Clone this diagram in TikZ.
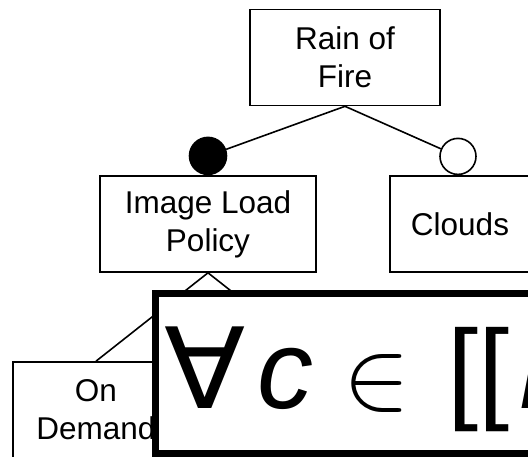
\RequirePackage{fix-cm}
\documentclass[tikz,border=0pt]{standalone}
\usepackage{fontspec}
\setmainfont{Liberation Sans}
\newfontfamily\symfont{DejaVu Sans}
\usetikzlibrary{positioning}
\begin{document}
\begin{tikzpicture}[x=1pt,y=-1pt,
    feature/.style={draw, line width=1.6pt, minimum height=96pt, inner sep=0pt,
        align=center, font=\fontsize{31.5}{38}\selectfont},
    mandatory/.style={circle, draw, fill=black, line width=1.6pt, minimum size=37pt, inner sep=0pt},
    optional/.style={circle, draw, fill=white, line width=1.6pt, minimum size=36pt, inner sep=0pt},
    formula/.style={draw, fill=white, line width=7pt, minimum width=420pt,
        minimum height=159pt, inner sep=0pt, anchor=north west},
    link/.style={line width=1.6pt}]
    \useasboundingbox (0,0) rectangle (528,457);
    \clip (0,0) rectangle (528,457);
    \node[feature, minimum width=190pt] (rain) at (345,57.5) {Rain of\\Fire};
    \node[feature, minimum width=216pt] (ilp) at (208,224) {Image Load\\Policy};
    \node[feature, minimum width=140pt] (clouds) at (460,224) {Clouds};
    \node[mandatory, above=0pt of ilp] (ilpdot) {};
    \node[optional, above=0pt of clouds, xshift=-2pt] (cloudsdot) {};
    \node[feature, minimum width=166pt] (demand) at (96,410) {On\\Demand};
    \node[feature, minimum width=136pt] (other) at (320,410) {};
    \draw[link] (rain.south) -- (ilpdot);
    \draw[link] (rain.south) -- (cloudsdot);
    \draw[link] (ilp.south) -- (demand.north);
    \draw[link] (ilp.south) -- (other.north);
    \node[formula] (spec) at (151.5,290.5) {};
    \node[anchor=base west, inner sep=0pt, font=\fontsize{112}{112}\selectfont]
        (specmath) at (164,408) {\scalebox{1.06}[1]{\symfont ∀}\hspace{12pt}\textit{c}\hspace{30pt}{\fontsize{100}{100}\selectfont$\in$}\hspace{37pt}[[\hspace{9pt}\textit{F}};
\end{tikzpicture}
\end{document}
